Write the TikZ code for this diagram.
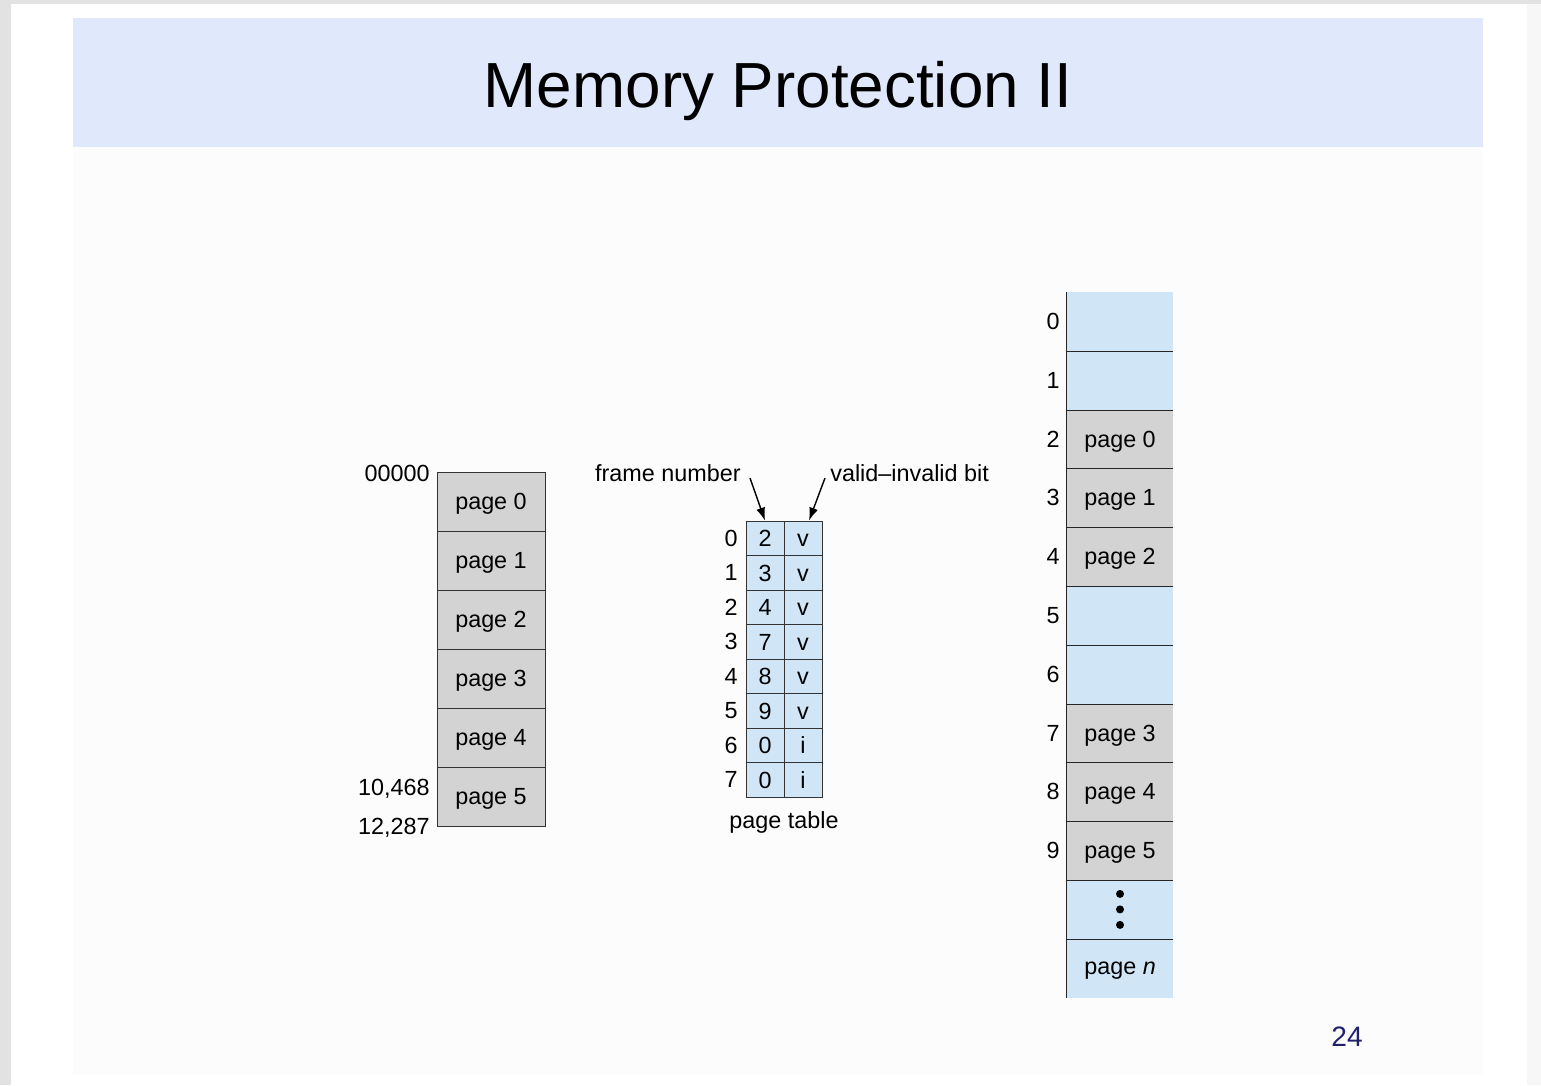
\documentclass[tikz,border=0pt]{standalone}
\usepackage{fontspec}
\setmainfont{Liberation Sans}
\usepackage{color}
\usepackage{tikz}
\usetikzlibrary{arrows.meta}
\definecolor{slidegray}{RGB}{226,226,226}
\definecolor{titleblue}{RGB}{223,233,251}
\definecolor{pagegray}{RGB}{211,211,211}
\definecolor{frameblue}{RGB}{208,230,246}
\definecolor{numnavy}{RGB}{32,32,110}
\tikzset{
  font={\fontsize{13.3pt}{15}\selectfont}}

\begin{document}
\begin{tikzpicture}[x=0.02cm, y=0.02cm]
\tikzstyle{every node}+=[inner sep=0pt, text depth=0pt]
\tikzstyle{lpage}=[draw=black!80, fill=pagegray, minimum width=2.16cm, minimum height=1.18cm]
\tikzstyle{tcell}=[draw=black!80, fill=frameblue, minimum width=0.76cm, minimum height=0.69cm, text height=9.5pt]
\tikzstyle{fslot}=[fill=frameblue, minimum width=2.12cm, minimum height=1.176cm]
\tikzstyle{fpage}=[fslot, fill=pagegray]
\tikzstyle{ptr}=[-{Latex[length=0.26cm, width=0.18cm]}, line width=0.8pt]
\useasboundingbox (0,0) rectangle (1541,-1085);
% slide
\fill [slidegray] (0,0) rectangle (1541,-1085);
\fill [white] (11,-4) rectangle (1541,-1085);
\fill [black!3] (1527,-4) rectangle (1541,-1085);
\fill [black!1] (73,-147) rectangle (1483,-1075);
\fill [titleblue] (73,-18) rectangle (1483,-147);
\node [anchor=base, font={\fontsize{36.3pt}{40}\selectfont}] (title) at (778,-107) {Memory Protection II};
% logical memory
\node [lpage] (l0) at (491,-501.5) {page 0};
\node [lpage] (l1) at (491,-560.5) {page 1};
\node [lpage] (l2) at (491,-619.5) {page 2};
\node [lpage] (l3) at (491,-678.5) {page 3};
\node [lpage] (l4) at (491,-737.5) {page 4};
\node [lpage] (l5) at (491,-796.5) {page 5};
\node [anchor=east] (a0) at (430,-473) {00000};
\node [anchor=east] (a1) at (430,-787) {10,468};
\node [anchor=east] (a2) at (430,-826) {12,287};
% page table
\node [tcell] (t0f) at (765,-538.25) {2};
\node [tcell] (t0v) at (803,-538.25) {v};
\node [tcell] (t1f) at (765,-572.75) {3};
\node [tcell] (t1v) at (803,-572.75) {v};
\node [tcell] (t2f) at (765,-607.25) {4};
\node [tcell] (t2v) at (803,-607.25) {v};
\node [tcell] (t3f) at (765,-641.75) {7};
\node [tcell] (t3v) at (803,-641.75) {v};
\node [tcell] (t4f) at (765,-676.25) {8};
\node [tcell] (t4v) at (803,-676.25) {v};
\node [tcell] (t5f) at (765,-710.75) {9};
\node [tcell] (t5v) at (803,-710.75) {v};
\node [tcell] (t6f) at (765,-745.25) {0};
\node [tcell] (t6v) at (803,-745.25) {i};
\node [tcell] (t7f) at (765,-779.75) {0};
\node [tcell] (t7v) at (803,-779.75) {i};
\node (ti0) at (731,-538.25) {0};
\node (ti1) at (731,-572.75) {1};
\node (ti2) at (731,-607.25) {2};
\node (ti3) at (731,-641.75) {3};
\node (ti4) at (731,-676.25) {4};
\node (ti5) at (731,-710.75) {5};
\node (ti6) at (731,-745.25) {6};
\node (ti7) at (731,-779.75) {7};
\node (ptab) at (784,-820) {page table};
\node [anchor=east] (fnum) at (741,-473) {frame number};
\node [anchor=west] (vbit) at (830,-473) {valid--invalid bit};
\coordinate (fnumtail) at (750,-478);
\coordinate (vbittail) at (825,-478);
\draw [ptr] (fnumtail) -- (t0f.north);
\draw [ptr] (vbittail) -- ([xshift=0.12cm]t0v.north);
% physical memory
\node [fslot] (f0) at (1120,-321.4) {};
\node [fslot] (f1) at (1120,-380.2) {};
\node [fpage] (f2) at (1120,-439) {page 0};
\node [fpage] (f3) at (1120,-497.8) {page 1};
\node [fpage] (f4) at (1120,-556.6) {page 2};
\node [fslot] (f5) at (1120,-615.4) {};
\node [fslot] (f6) at (1120,-674.2) {};
\node [fpage] (f7) at (1120,-733) {page 3};
\node [fpage] (f8) at (1120,-791.8) {page 4};
\node [fpage] (f9) at (1120,-850.6) {page 5};
\node [fslot] (fdots) at (1120,-909.4) {};
\node [fslot] (fn) at (1120,-968.2) {page \textit{n}};
\fill (fdots.center) circle (0.08cm);
\fill ([yshift=0.31cm]fdots.center) circle (0.08cm);
\fill ([yshift=-0.31cm]fdots.center) circle (0.08cm);
\draw [black!85] (f0.north west) -- (fn.south west);
\draw [black!85] (f0.south west) -- (f0.south east);
\draw [black!85] (f1.south west) -- (f1.south east);
\draw [black!85] (f2.south west) -- (f2.south east);
\draw [black!85] (f3.south west) -- (f3.south east);
\draw [black!85] (f4.south west) -- (f4.south east);
\draw [black!85] (f5.south west) -- (f5.south east);
\draw [black!85] (f6.south west) -- (f6.south east);
\draw [black!85] (f7.south west) -- (f7.south east);
\draw [black!85] (f8.south west) -- (f8.south east);
\draw [black!85] (f9.south west) -- (f9.south east);
\draw [black!85] (fdots.south west) -- (fdots.south east);
\node (r0) at (1053,-321.4) {0};
\node (r1) at (1053,-380.2) {1};
\node (r2) at (1053,-439) {2};
\node (r3) at (1053,-497.8) {3};
\node (r4) at (1053,-556.6) {4};
\node (r5) at (1053,-615.4) {5};
\node (r6) at (1053,-674.2) {6};
\node (r7) at (1053,-733) {7};
\node (r8) at (1053,-791.8) {8};
\node (r9) at (1053,-850.6) {9};
% slide number
\node [text=numnavy, font={\fontsize{16pt}{18}\selectfont}] (slideno) at (1347,-1037) {24};
\end{tikzpicture}
\end{document}
